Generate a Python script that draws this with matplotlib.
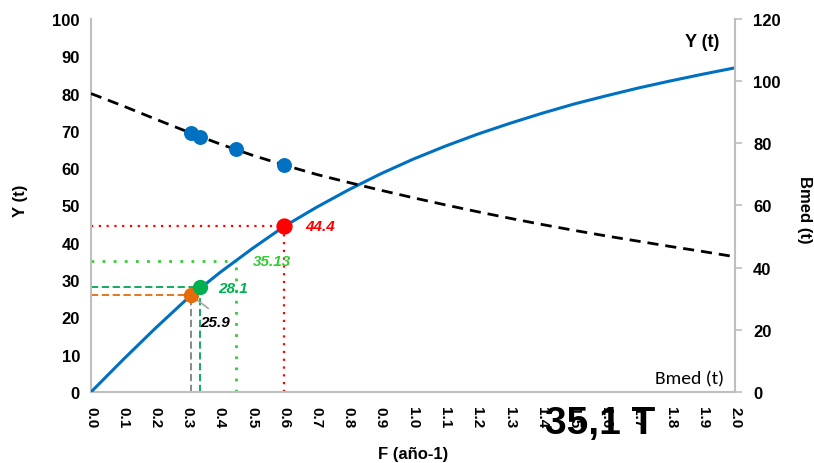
import numpy as np
import matplotlib
matplotlib.use('AGG')
import matplotlib.pyplot as plt

plt.rcParams['font.family'] = ['Liberation Sans', 'DejaVu Sans']

# curve data
f_vals = [0.0, 0.1, 0.2, 0.3, 0.4, 0.5, 0.6, 0.7, 0.8, 0.9, 1.0,
          1.1, 1.2, 1.3, 1.4, 1.5, 1.6, 1.7, 1.8, 1.9, 2.0]
y_vals = [0.0, 8.7, 17.1, 25.1, 32.0, 38.4, 44.4, 49.5, 54.2, 58.5, 62.4,
          65.9, 69.1, 72.0, 74.7, 77.2, 79.4, 81.5, 83.4, 85.2, 86.9]
bmed_vals = [96.0, 92.0, 87.8, 83.7, 79.8, 76.2, 73.0, 70.0, 67.4, 64.9, 62.5,
             60.2, 58.0, 55.9, 53.9, 52.0, 50.2, 48.5, 46.8, 45.2, 43.5]

# reference points
pt_f = [0.31, 0.34, 0.45, 0.6]
pt_bmed = [83.3, 82.0, 78.2, 73.0]
ref_f = [0.31, 0.34, 0.45, 0.6]
ref_y = [25.9, 28.1, 35.13, 44.4]
ref_labels = ['25.9', '28.1', '35.13', '44.4']


def main():
    fig = plt.figure(figsize=(8.14, 4.64), dpi=100)
    ax = fig.add_axes([0.1118, 0.153, 0.7912, 0.804])
    ax2 = ax.twinx()

    blue = '#0070C0'
    gray = '#BFBFBF'

    ax.plot(f_vals, y_vals, color=blue, lw=2.2, zorder=3)
    ax2.plot(f_vals, bmed_vals, color='black', lw=2, ls=(0, (4, 2.5)), zorder=2)
    ax2.scatter(pt_f, pt_bmed, s=95, color=blue, zorder=4)

    # guide lines
    # orange / gray dashed (25.9)
    ax.plot([0, ref_f[0]], [ref_y[0], ref_y[0]], color='#E46C0A', lw=1.3, ls=(0, (4, 2)))
    ax.plot([ref_f[0], ref_f[0]], [0, ref_y[0]], color='#808080', lw=1.3, ls=(0, (4, 2)))
    # dark green dashed (28.1)
    ax.plot([0, ref_f[1]], [ref_y[1], ref_y[1]], color='#00A550', lw=1.3, ls=(0, (4, 2)))
    ax.plot([ref_f[1], ref_f[1]], [0, ref_y[1]], color='#00A550', lw=1.3, ls=(0, (4, 2)))
    # light green dotted (35.13)
    ax.plot([0, ref_f[2]], [ref_y[2], ref_y[2]], color='#33CC33', lw=2, ls=(0, (1, 3)))
    ax.plot([ref_f[2], ref_f[2]], [0, ref_y[2]], color='#33CC33', lw=2, ls=(0, (1, 3)))
    # red dotted (44.4)
    ax.plot([0, ref_f[3]], [ref_y[3], ref_y[3]], color='#FF0000', lw=1.6, ls=(0, (1, 2.5)))
    ax.plot([ref_f[3], ref_f[3]], [0, ref_y[3]], color='#FF0000', lw=1.6, ls=(0, (1, 2.5)))

    ax.scatter([ref_f[0]], [ref_y[0]], s=100, color='#E46C0A', zorder=5)
    ax.scatter([ref_f[1]], [ref_y[1]], s=100, color='#00B050', zorder=5)
    ax.scatter([ref_f[3]], [ref_y[3]], s=115, color='#FF0000', zorder=5)

    # labels
    ax.annotate(ref_labels[0], xy=(ref_f[0], ref_y[0]), xytext=(0.339, 18.9),
                fontsize=11, fontweight='bold', fontstyle='italic', color='black',
                va='center',
                arrowprops=dict(arrowstyle='-', color='#A6A6A6', lw=1.2,
                                shrinkA=4, shrinkB=0, relpos=(0.55, 1.0)))
    ax.text(0.394, 27.9, ref_labels[1], fontsize=11, fontweight='bold',
            fontstyle='italic', color='#00B050', va='center')
    ax.text(0.503, 35.0, ref_labels[2], fontsize=11, fontweight='bold',
            fontstyle='italic', color='#33CC33', va='center')
    ax.text(0.665, ref_y[3], ref_labels[3], fontsize=11, fontweight='bold',
            fontstyle='italic', color='#FF0000', va='center')

    ax.text(1.95, 94, 'Y (t)', fontsize=13, fontweight='bold', ha='right', va='center')
    ax.text(1.965, 3.7, 'Bmed (t)', fontsize=14, ha='right', va='center',
            family=['Carlito', 'Liberation Sans', 'DejaVu Sans'])

    ax.set_xlim(0, 2.0)
    ax.set_ylim(0, 100)
    ax2.set_ylim(0, 120)
    ax.set_xticks(np.arange(0, 2.01, 0.1))
    ax.set_xticklabels(['%.1f' % v for v in np.arange(0, 2.01, 0.1)],
                       rotation=-90, fontsize=11, fontweight='bold')
    ax.set_yticks(np.arange(0, 101, 10))
    ax.set_yticklabels([str(v) for v in range(0, 101, 10)], fontsize=12, fontweight='bold')
    ax2.set_yticks(np.arange(0, 121, 20))
    ax2.set_yticklabels([str(v) for v in range(0, 121, 20)], fontsize=12, fontweight='bold')

    ax.tick_params(axis='x', length=0, pad=10)
    ax.tick_params(axis='y', length=0, pad=8)
    ax2.tick_params(axis='y', length=5, color=gray, width=1.2, direction='out', pad=8)

    for a in (ax, ax2):
        for s in a.spines.values():
            s.set_visible(False)
    ax.spines['left'].set_visible(True)
    ax.spines['bottom'].set_visible(True)
    ax2.spines['right'].set_visible(True)
    for s in (ax.spines['left'], ax.spines['bottom'], ax2.spines['right']):
        s.set_color(gray)
        s.set_linewidth(1.5)

    ax.set_ylabel('Y (t)', fontsize=12, fontweight='bold', va='center')
    ax.yaxis.set_label_coords(-0.109, 0.515)
    ax2.set_ylabel('Bmed (t)', fontsize=12, fontweight='bold', rotation=-90,
                   va='center')
    ax2.yaxis.set_label_coords(1.108, 0.49)
    ax.set_xlabel('F (año-1)', fontsize=12, fontweight='bold', va='center')
    ax.xaxis.set_label_coords(0.5, -0.165)

    fig.text(0.737, 0.087, '35,1 T', fontsize=28, fontweight='bold', ha='center', va='center')

    fig.savefig('out.png', dpi=100)


if __name__ == '__main__':
    main()
